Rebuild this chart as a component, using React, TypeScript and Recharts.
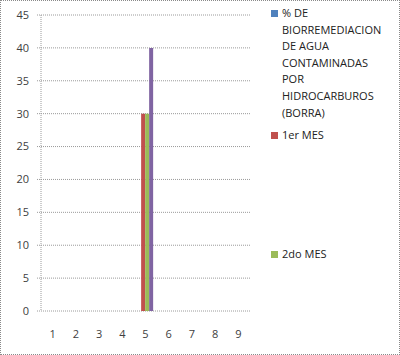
import React from "react";
import { Bar, BarChart, CartesianGrid, Legend, XAxis, YAxis } from "recharts";

const categories = ["1", "2", "3", "4", "5", "6", "7", "8", "9"];
const biorremediacion: (number | null)[] = [null, null, null, null, 0, null, null, null, null];
const primerMes: (number | null)[] = [null, null, null, null, 30, null, null, null, null];
const segundoMes: (number | null)[] = [null, null, null, null, 30, null, null, null, null];
const cuartaSerie: (number | null)[] = [null, null, null, null, 40, null, null, null, null];
const yTicks = [0, 5, 10, 15, 20, 25, 30, 35, 40, 45];
const edgeTicks = [0, 1, 2, 3, 4, 5, 6, 7, 8, 9];

const data = categories.map((c, i) => ({
  cat: c,
  idx: i + 0.5,
  s1: biorremediacion[i],
  s2: primerMes[i],
  s3: segundoMes[i],
  s4: cuartaSerie[i],
}));

const FONT = "'Open Sans', 'Noto Sans', sans-serif";
const GRID = "#9a9a9a";
const TEXT = "#404040";

// legend entry tops, as in the original workbook layout
const LEGEND_TOPS = [5, 127, 246];

function ExcelLegend({ payload }: any) {
  const items = (payload || []).filter((p: any) => p.type !== "none");
  return (
    <div style={{ position: "relative", width: 130, height: 300 }}>
      {items.map((p: any, i: number) => (
        <div
          key={p.value}
          style={{
            position: "absolute",
            left: 0,
            top: LEGEND_TOPS[i] ?? 0,
            display: "flex",
            alignItems: "flex-start",
            fontFamily: FONT,
            fontSize: 11,
            lineHeight: "16.6px",
            color: "#222",
          }}
        >
          <span
            style={{
              display: "inline-block",
              width: 7,
              height: 7,
              marginTop: 5,
              marginRight: 4,
              background: p.color,
              flex: "none",
            }}
          />
          <span style={{ width: 106 }}>{p.value}</span>
        </div>
      ))}
    </div>
  );
}

export default function App() {
  return (
    <div style={{ position: "absolute", left: 0, top: 0, width: 400, height: 355, background: "#fff" }}>
      <BarChart
        width={400}
        height={355}
        data={data}
        margin={{ top: 15, right: 20, bottom: 14, left: 0 }}
        barCategoryGap="14%"
        barGap={0}
      >
        <CartesianGrid vertical={false} stroke={GRID} strokeDasharray="1 1" />
        <XAxis
          xAxisId="edge"
          type="number"
          dataKey="idx"
          domain={[0, 9]}
          ticks={edgeTicks}
          tickFormatter={() => ""}
          tickSize={4}
          height={0}
          stroke={GRID}
          strokeDasharray="1 1"
        />
        <XAxis
          xAxisId="cat"
          dataKey="cat"
          axisLine={false}
          tickLine={false}
          tickMargin={13}
          height={30}
          interval={0}
          tick={{ fontSize: 11, fill: TEXT, fontFamily: FONT }}
        />
        <YAxis
          domain={[0, 45]}
          ticks={yTicks}
          width={41}
          tickSize={4}
          tickMargin={8}
          stroke={GRID}
          strokeDasharray="1 1"
          tick={{ fontSize: 11, fill: TEXT, fontFamily: FONT }}
        />
        <Legend
          layout="vertical"
          align="right"
          verticalAlign="top"
          content={<ExcelLegend />}
          wrapperStyle={{ position: "absolute", left: 271, top: 0, width: 130 }}
        />
        <Bar xAxisId="cat" dataKey="s1" name="% DE BIORREMEDIACION DE AGUA CONTAMINADAS POR HIDROCARBUROS (BORRA)" fill="#4F81BD" isAnimationActive={false} />
        <Bar xAxisId="cat" dataKey="s2" name="1er MES" fill="#C0504D" isAnimationActive={false} />
        <Bar xAxisId="cat" dataKey="s3" name="2do MES" fill="#9BBB59" isAnimationActive={false} />
        <Bar xAxisId="cat" dataKey="s4" name="serie4" fill="#8064A2" legendType="none" isAnimationActive={false} />
      </BarChart>
      <div
        style={{
          position: "absolute",
          left: 0,
          top: 0,
          width: 400,
          height: 355,
          boxSizing: "border-box",
          border: "1px dotted #8a8a8a",
          pointerEvents: "none",
        }}
      />
    </div>
  );
}
